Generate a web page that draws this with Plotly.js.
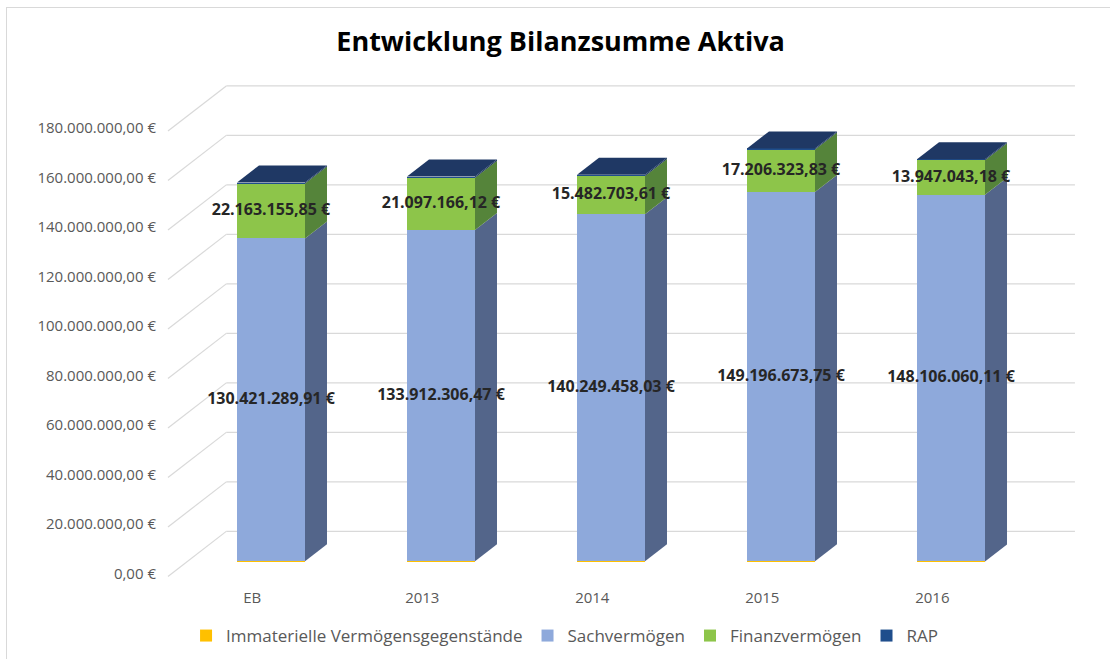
<!DOCTYPE html>
<html>
<head>
<meta charset="utf-8">
<script src="https://cdn.plot.ly/plotly-3.0.1.min.js"></script>
<style>
  html, body { margin:0; padding:0; background:#fff; }
  #wrap { position:relative; width:1110px; height:659px; }
  #chart { position:absolute; left:0; top:0; width:1110px; height:659px; }
  #frame { position:absolute; left:6px; top:7px; width:1110px; height:660px;
           border-left:1.5px solid #d9d9d9; border-top:1.5px solid #d9d9d9; pointer-events:none; }
</style>
</head>
<body>
<div id="wrap"><div id="chart"></div><div id="frame"></div></div>
<script>
// ---- data ----
const categories = ['EB', '2013', '2014', '2015', '2016'];
const immateriell = [300000, 280000, 270000, 260000, 250000];          // estimated (tiny)
const sachvermoegen = [130421289.91, 133912306.47, 140249458.03, 149196673.75, 148106060.11];
const finanzvermoegen = [22163155.85, 21097166.12, 15482703.61, 17206323.83, 13947043.18];
const rap = [450000, 420000, 480000, 460000, 450000];                  // estimated (tiny)
const yTicks = [0, 20000000, 40000000, 60000000, 80000000, 100000000, 120000000, 140000000, 160000000, 180000000];

const seriesNames = ['Immaterielle Vermögensgegenstände', 'Sachvermögen', 'Finanzvermögen', 'RAP'];
const seriesVals = [immateriell, sachvermoegen, finanzvermoegen, rap];
const frontColors = ['#FFC000', '#8EA9DB', '#8DC54A', '#1F4E8C'];
const sideColors  = ['#9C7600', '#53658A', '#55843A', '#15305A'];
const topColor = '#1F3864';
const labelSeries = [1, 2];

// ---- geometry (oblique 3D look) ----
const BAR_HALF = 0.2;
const DX = 22 / 170;          // depth step in x units
const DY = 17 / 2.475 * 1e6;  // depth step in value units
const FRONT = -0.85, BACK = 1.8;
const X_FRONT_LEFT = -0.606, X_BACK_RIGHT = 4.729;

function deFmt(v) {
  const parts = v.toFixed(2).split('.');
  const intPart = parts[0].replace(/\B(?=(\d{3})+(?!\d))/g, '.');
  return intPart + ',' + parts[1] + ' €';
}

const xs = categories.map((c, i) => i);
const traces = [];

// front faces (stacked bars)
seriesVals.forEach((vals, s) => {
  traces.push({
    type: 'bar', x: xs, y: vals, name: seriesNames[s], width: 2 * BAR_HALF,
    marker: { color: frontColors[s], line: { width: 0 } }, hoverinfo: 'skip'
  });
});

// side and top faces
const cum = categories.map(() => 0);
seriesVals.forEach((vals, s) => {
  vals.forEach((v, i) => {
    const b = cum[i], t = cum[i] + v;
    const xr = i + BAR_HALF;
    traces.push({
      type: 'scatter', mode: 'lines', fill: 'toself', fillcolor: sideColors[s],
      line: { width: 0, color: sideColors[s] }, showlegend: false, hoverinfo: 'skip',
      x: [xr, xr + DX, xr + DX, xr, xr],
      y: [b, b + DY, t + DY, t, b]
    });
    cum[i] = t;
  });
});
cum.forEach((t, i) => {
  const xl = i - BAR_HALF, xr = i + BAR_HALF;
  traces.push({
    type: 'scatter', mode: 'lines', fill: 'toself', fillcolor: topColor,
    line: { width: 0, color: topColor }, showlegend: false, hoverinfo: 'skip',
    x: [xl, xr, xr + DX, xl + DX, xl],
    y: [t, t, t + DY, t + DY, t]
  });
});

// data labels
labelSeries.forEach(s => {
  const ys = categories.map((c, i) => {
    let base = 0;
    for (let k = 0; k < s; k++) base += seriesVals[k][i];
    return base + seriesVals[s][i] / 2;
  });
  traces.push({
    type: 'scatter', mode: 'text', x: xs, y: ys,
    text: seriesVals[s].map(v => '<b>' + deFmt(v) + '</b>'),
    textposition: 'middle center',
    textfont: { family: 'Open Sans', size: 16, color: '#262626' },
    showlegend: false, hoverinfo: 'skip'
  });
});

// gridlines (side wall diagonal + back wall horizontal)
const shapes = [];
yTicks.forEach(v => {
  const yf = v + FRONT * DY, yb = v + BACK * DY;
  const xb = X_FRONT_LEFT + (BACK - FRONT) * DX;
  shapes.push({ type: 'line', xref: 'x', yref: 'y', layer: 'below',
    x0: X_FRONT_LEFT, y0: yf, x1: xb, y1: yb, line: { color: '#D9D9D9', width: 1.2 } });
  shapes.push({ type: 'line', xref: 'x', yref: 'y', layer: 'below',
    x0: xb, y0: yb, x1: X_BACK_RIGHT, y1: yb, line: { color: '#D9D9D9', width: 1.2 } });
});

const layout = {
  width: 1110, height: 659,
  margin: { l: 160, r: 20, t: 70, b: 74, autoexpand: false },
  paper_bgcolor: '#fff', plot_bgcolor: '#fff',
  barmode: 'stack',
  showlegend: true,
  title: { text: '<b>Entwicklung Bilanzsumme Aktiva</b>', x: 0.505, xanchor: 'center',
           yref: 'container', y: 1 - 42 / 659, yanchor: 'middle',
           font: { family: 'Open Sans', size: 27, color: '#000' } },
  xaxis: { range: [-0.6529, 4.8176], showgrid: false, zeroline: false, showline: false, automargin: false,
           tickmode: 'array', tickvals: xs.map(i => i + FRONT * DX), ticktext: categories,
           ticks: '', ticklabelstandoff: 2,
           tickfont: { family: 'Open Sans', size: 15, color: '#595959' } },
  yaxis: { range: [-9.293e6, 198.79e6], showgrid: false, zeroline: false, showline: false, automargin: false,
           tickmode: 'array', tickvals: yTicks.map(v => v + FRONT * DY + 1.2e6), ticktext: yTicks.map(deFmt),
           ticks: '', ticklabelstandoff: 3,
           tickfont: { family: 'Open Sans', size: 15, color: '#595959' } },
  legend: { orientation: 'h', x: 0.435, xanchor: 'center', yref: 'container', y: 1 - 636 / 659, yanchor: 'middle',
            font: { family: 'Open Sans', size: 17, color: '#595959' }, traceorder: 'normal',
            itemclick: false },
  shapes: shapes
};

Plotly.newPlot('chart', traces, layout, { displayModeBar: false, staticPlot: true });
</script>
</body>
</html>
